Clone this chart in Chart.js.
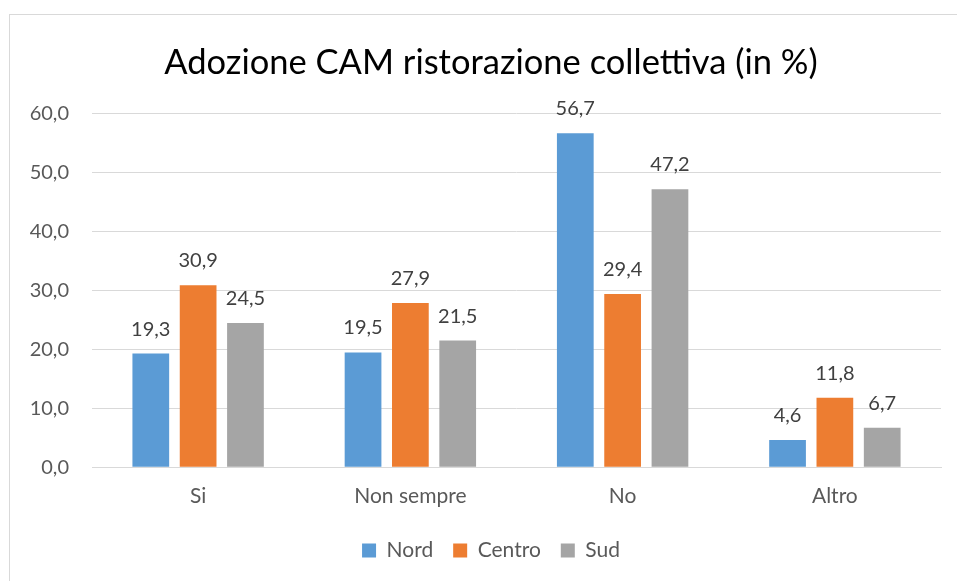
<!DOCTYPE html>
<html><head><meta charset="utf-8">
<script src="https://cdn.jsdelivr.net/npm/chart.js@4"></script>
<style>
html,body{margin:0;padding:0;background:#fff;overflow:hidden;width:957px;height:581px;}
#frame{position:absolute;left:9px;top:14px;width:1000px;height:600px;border-left:1px solid #d9d9d9;border-top:1px solid #d9d9d9;}
#wrap{position:absolute;left:0;top:0;width:957px;height:581px;}
</style></head>
<body>
<div id="frame"></div>
<div id="wrap"><canvas id="c" width="957" height="581"></canvas></div>
<script>
const categories = ["Si", "Non sempre", "No", "Altro"];
const nord = [19.3, 19.5, 56.7, 4.6];
const centro = [30.9, 27.9, 29.4, 11.8];
const sud = [24.5, 21.5, 47.2, 6.7];
const seriesNames = ["Nord", "Centro", "Sud"];
const colors = ["#5b9bd5", "#ed7d31", "#a5a5a5"];
const titleText = "Adozione CAM ristorazione collettiva (in %)";
const FONT = "Lato, 'Open Sans', sans-serif";

const fmt = v => v.toFixed(1).replace('.', ',');

const labelPlugin = {
  id: 'valueLabels',
  afterDatasetsDraw(chart) {
    const ctx = chart.ctx;
    ctx.save();
    ctx.font = "20px " + FONT;
    ctx.fillStyle = "#404040";
    ctx.textAlign = "center";
    ctx.textBaseline = "middle";
    chart.data.datasets.forEach((ds, i) => {
      const meta = chart.getDatasetMeta(i);
      meta.data.forEach((el, j) => {
        ctx.fillText(fmt(ds.data[j]), el.x, el.y - 24.5);
      });
    });
    ctx.restore();
  }
};

new Chart(document.getElementById('c'), {
  type: 'bar',
  data: {
    labels: categories,
    datasets: [nord, centro, sud].map((d, i) => ({
      label: seriesNames[i],
      data: d,
      backgroundColor: colors[i],
      borderWidth: 0,
      categoryPercentage: 0.669,
      barPercentage: 0.776
    }))
  },
  options: {
    responsive: false,
    animation: false,
    layout: { padding: { left: 25, right: 0, top: 0, bottom: 10 } },
    plugins: {
      title: {
        display: true,
        text: titleText,
        color: "#000000",
        font: { family: FONT, size: 34.5, weight: 'normal' },
        padding: { top: 42, bottom: 30.5 }
      },
      legend: {
        position: 'bottom',
        labels: {
          boxWidth: 14, boxHeight: 14,
          color: "#595959",
          font: { family: FONT, size: 21 },
          padding: 20
        }
      },
      tooltip: { enabled: false }
    },
    scales: {
      x: {
        grid: { display: false, drawTicks: false },
        border: { display: true, color: "#d9d9d9", width: 1 },
        ticks: { color: "#595959", font: { family: FONT, size: 21 }, padding: 16.5 },
        afterFit(s) { s.height = 52.8; }
      },
      y: {
        min: 0, max: 60,
        ticks: { stepSize: 10, color: "#595959", font: { family: FONT, size: 20 }, padding: 23,
          callback: v => fmt(v) },
        grid: { color: "#d9d9d9", drawTicks: false },
        border: { display: false },
        afterFit(s) { s.width = 67; }
      },
      yRight: {
        position: 'right',
        display: true,
        grid: { display: false, drawTicks: false },
        border: { display: false },
        ticks: { display: false },
        afterFit(s) { s.width = 16; }
      }
    }
  },
  plugins: [labelPlugin]
});
</script>
</body></html>
